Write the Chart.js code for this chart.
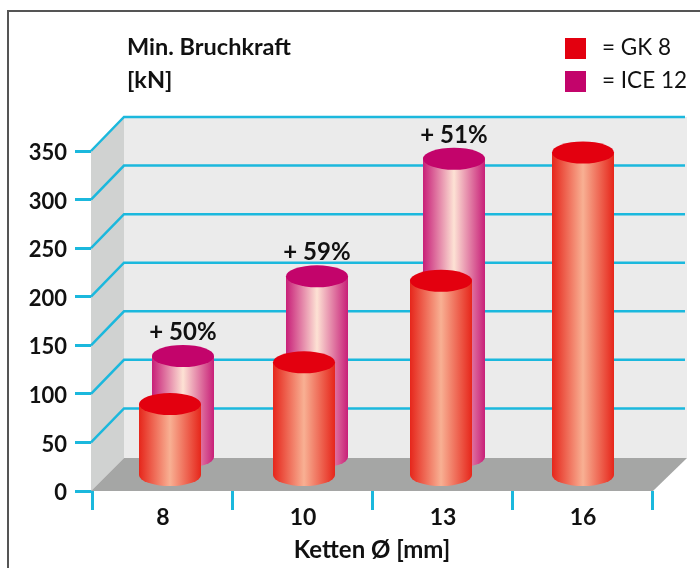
<!DOCTYPE html>
<html>
<head>
<meta charset="utf-8">
<style>
  html, body { margin: 0; padding: 0; background: #fff; }
  canvas { display: block; }
</style>
<script src="https://cdn.jsdelivr.net/npm/chart.js@4/dist/chart.umd.min.js"></script>
</head>
<body>
<canvas id="kettenChart" width="700" height="568"></canvas>
<script>
const durchmesser = ['8', '10', '13', '16'];
const gk8 = [73, 116, 200, 332];
const ice12 = [104, 186, 307, null];
const zuwachs = ['+ 50%', '+ 59%', '+ 51%', ''];
const yTicks = [0, 50, 100, 150, 200, 250, 300, 350];

const FONT = 'Lato, sans-serif';
const CYAN = '#1bb8dd';
const TIEFE = 34;          // depth of the fake 3D box in px
const RY = 11;             // cap ellipse radius
const nudge = [8, 2, -1, 1];   // the source bars are not quite centred on their category

const stil = [
    { rand: '#e6261b', mitte: '#f8b093', deckel: '#e3000f', tiefe: 16, dx: 0 },
    { rand: '#c81f78', mitte: '#fde2d4', deckel: '#c3046b', tiefe: 34, dx: 13 }
];

function zeichneZylinder(ctx, x, top, unten, w, s) {
    const grad = ctx.createLinearGradient(x - w / 2, 0, x + w / 2, 0);
    grad.addColorStop(0, s.rand);
    grad.addColorStop(0.5, s.mitte);
    grad.addColorStop(1, s.rand);

    ctx.fillStyle = grad;
    ctx.beginPath();
    ctx.moveTo(x - w / 2, top);
    ctx.lineTo(x + w / 2, top);
    ctx.lineTo(x + w / 2, unten);
    ctx.ellipse(x, unten, w / 2, RY, 0, 0, Math.PI);
    ctx.closePath();
    ctx.fill();

    ctx.fillStyle = s.deckel;
    ctx.beginPath();
    ctx.ellipse(x, top, w / 2, RY, 0, 0, Math.PI * 2);
    ctx.fill();
}

const kulisse = {
    id: 'kulisse',
    beforeDatasetsDraw(chart) {
        const ctx = chart.ctx;
        const y = chart.scales.y;
        const a = chart.chartArea;
        const links = a.left - 1;
        const rechts = a.right + 1;
        const oben = y.getPixelForValue(350);
        const boden = y.getPixelForValue(0);
        const hinten = boden - TIEFE + 1;

        ctx.save();
        // frame
        ctx.strokeStyle = '#555';
        ctx.lineWidth = 2;
        ctx.beginPath();
        ctx.moveTo(8, 568);
        ctx.lineTo(8, 11);
        ctx.lineTo(700, 11);
        ctx.stroke();

        // side wall
        ctx.fillStyle = '#d0d2d1';
        ctx.beginPath();
        ctx.moveTo(links, oben);
        ctx.lineTo(links + TIEFE - 1, oben - TIEFE);
        ctx.lineTo(links + TIEFE - 1, hinten);
        ctx.lineTo(links, boden);
        ctx.fill();

        // back wall
        ctx.fillStyle = '#ebebeb';
        ctx.fillRect(links + TIEFE - 1, oben - TIEFE, rechts - links + 1, hinten - oben + TIEFE);

        // floor
        ctx.fillStyle = '#a5a6a5';
        ctx.beginPath();
        ctx.moveTo(links + TIEFE - 1, hinten);
        ctx.lineTo(rechts + TIEFE, hinten);
        ctx.lineTo(rechts, boden);
        ctx.lineTo(links, boden);
        ctx.fill();

        // grid lines run along the side wall and across the back wall
        ctx.strokeStyle = CYAN;
        ctx.lineWidth = 2.5;
        yTicks.forEach(t => {
            if (t === 0) return;
            const py = y.getPixelForValue(t);
            ctx.beginPath();
            ctx.moveTo(links, py);
            ctx.lineTo(links + TIEFE - 1, py - TIEFE);
            ctx.lineTo(rechts + TIEFE - 2, py - TIEFE);
            ctx.stroke();
        });

        // title
        ctx.fillStyle = '#111';
        ctx.textAlign = 'left';
        ctx.textBaseline = 'middle';
        ctx.font = 'bold 23.5px ' + FONT;
        ctx.fillText('Min. Bruchkraft', 127, 47);
        ctx.fillText('[kN]', 127, 80);

        // legend
        chart.data.datasets.forEach((ds, i) => {
            const ly = 38 + i * 33;
            ctx.fillStyle = stil[i].deckel;
            ctx.fillRect(565, ly, 21, 21);
            ctx.fillStyle = '#111';
            ctx.font = '22.5px ' + FONT;
            ctx.fillText('= ' + ds.label, 602, ly + 10);
        });
        ctx.restore();
    },
    beforeDatasetDraw(chart, args) {
        const ctx = chart.ctx;
        const s = stil[args.index];
        // bar.base is pulled in a little by the library, so take the zero line from the scale
        const null_y = chart.scales.y.getPixelForValue(0);
        ctx.save();
        args.meta.data.forEach((bar, i) => {
            if (chart.data.datasets[args.index].data[i] === null) return;
            const x = bar.x + nudge[i] + s.dx;
            const top = bar.y - s.tiefe;
            zeichneZylinder(ctx, x, top, null_y - s.tiefe, bar.width, s);
            if (args.index === 1) {
                ctx.fillStyle = '#111';
                ctx.font = 'bold 24px ' + FONT;
                ctx.textAlign = 'center';
                ctx.textBaseline = 'bottom';
                ctx.fillText(zuwachs[i], x, top - RY - 1);
            }
        });
        ctx.restore();
        return false;
    }
};

new Chart(document.getElementById('kettenChart').getContext('2d'), {
    type: 'bar',
    data: {
        labels: durchmesser,
        datasets: [
            { label: 'GK 8', data: gk8, barThickness: 62, grouped: false, backgroundColor: stil[0].deckel },
            { label: 'ICE 12', data: ice12, barThickness: 62, grouped: false, backgroundColor: stil[1].deckel }
        ]
    },
    options: {
        responsive: false,
        animation: false,
        layout: { padding: { top: 151, right: 48, left: 0, bottom: 0 } },
        plugins: { legend: { display: false }, tooltip: { enabled: false } },
        scales: {
            x: {
                afterFit(scale) { scale.height = 77; },
                border: { display: false },
                grid: { drawOnChartArea: false, color: CYAN, lineWidth: 3, tickLength: 19 },
                ticks: { color: '#111', padding: -6, maxRotation: 0, labelOffset: 1, font: { family: FONT, size: 23, weight: 'bold' } },
                title: { display: true, text: 'Ketten Ø [mm]', color: '#111', padding: { top: 0, bottom: 3 }, font: { family: FONT, size: 24, weight: 'bold' } }
            },
            y: {
                min: 0,
                max: 350,
                afterFit(scale) { scale.width = 92; },
                border: { display: false },
                grid: { drawOnChartArea: false, color: CYAN, lineWidth: 3, tickLength: 17 },
                ticks: { stepSize: 50, color: '#111', padding: 8, labelOffset: 2, font: { family: FONT, size: 22, weight: 'bold' } }
            }
        }
    },
    plugins: [kulisse]
});
</script>
</body>
</html>
